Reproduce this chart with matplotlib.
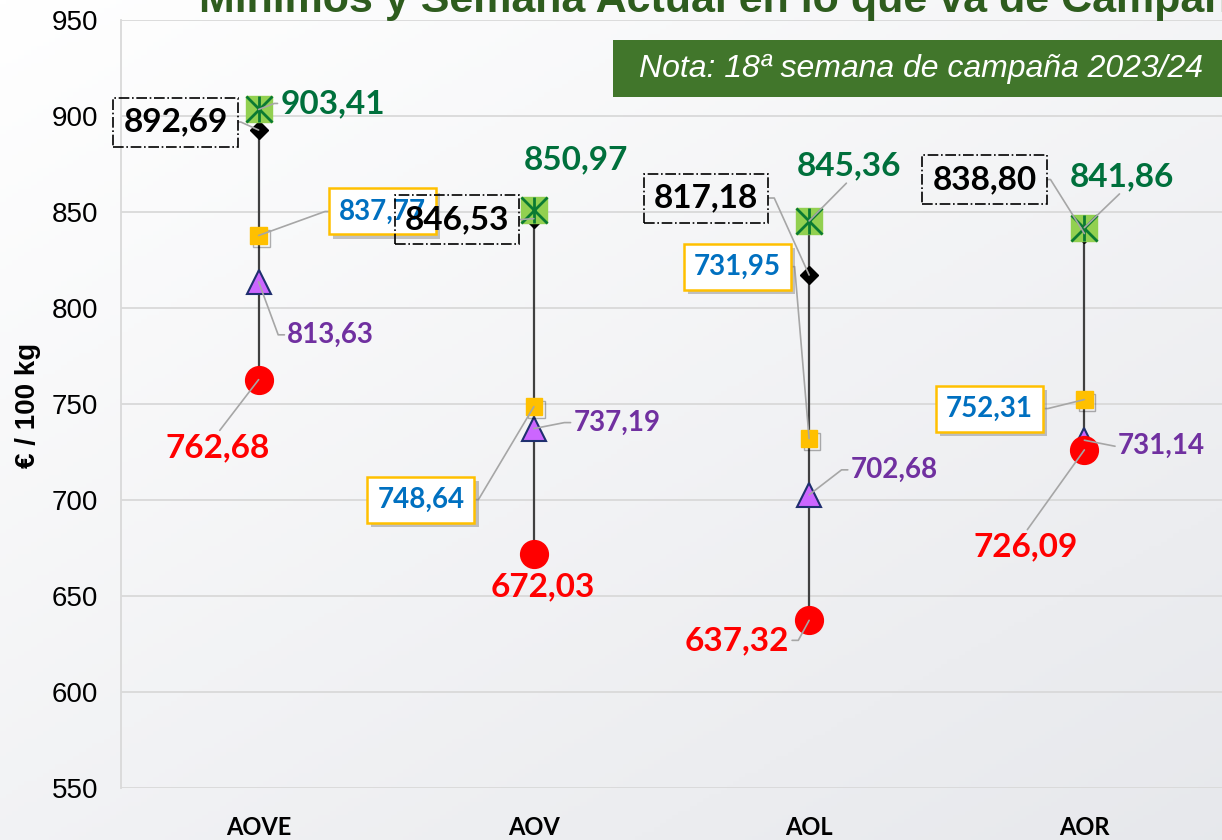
import matplotlib
matplotlib.use('Agg')
import matplotlib.pyplot as plt
import matplotlib.patheffects as pe
from matplotlib.patches import Rectangle
import numpy as np

# ---------------- data ----------------
categories = ['AOVE', 'AOV', 'AOL', 'AOR']
maximo = [903.41, 850.97, 845.36, 841.86]          # green square / asterisk
semana_actual = [892.69, 846.53, 817.18, 838.80]   # black diamond
serie_amarilla = [837.77, 748.64, 731.95, 752.31]  # yellow square
serie_morada = [813.63, 737.19, 702.68, 731.14]    # purple triangle
minimo = [762.68, 672.03, 637.32, 726.09]          # red circle
y_ticks = [550, 600, 650, 700, 750, 800, 850, 900, 950]

title_text = 'Mínimos y Semana Actual en lo que va de Campaña'
note_text = 'Nota: 18ª semana de campaña 2023/24'
y_label = '€ / 100 kg'

plt.rcParams['font.family'] = ['Lato', 'DejaVu Sans']

W, H = 1222, 840
fig = plt.figure(figsize=(W / 100, H / 100), dpi=100)

# background gradient
bg = fig.add_axes([0, 0, 1, 1], zorder=-10)
bg.axis('off')
gx, gy = np.meshgrid(np.linspace(0, 1, 200), np.linspace(0, 1, 200))
t = np.clip(0.45 * gx + 0.55 * gy, 0, 1)[..., None]
c0 = np.array([1.0, 1.0, 1.0])
c1 = np.array([0.905, 0.91, 0.925])
img = c0 * (1 - t) + c1 * t
bg.imshow(img, extent=[0, 1, 0, 1], aspect='auto', origin='upper')
bg.set_xlim(0, 1)
bg.set_ylim(0, 1)

ax = fig.add_axes([121 / W, 1 - 788 / H, 1 - 121 / W, (788 - 20) / H], zorder=1)
ax.set_facecolor('none')

x = np.arange(len(categories))
ax.set_xlim(-0.5, len(categories) - 0.5)
ax.set_ylim(y_ticks[0], y_ticks[-1])

ax.set_yticks(y_ticks)
ax.set_yticklabels([str(v) for v in y_ticks], fontsize=20, family='Liberation Sans')
ax.set_xticks(x)
ax.set_xticklabels(categories, fontsize=17, fontweight='bold')
ax.tick_params(axis='y', length=0, pad=16.5)
ax.tick_params(axis='x', length=0, pad=20)
ax.grid(axis='y', color='#D9D9D9', lw=1.3)
ax.set_axisbelow(True)
for s in ['top', 'right', 'bottom']:
    ax.spines[s].set_visible(False)
ax.spines['left'].set_color('#D9D9D9')
ax.spines['left'].set_linewidth(1.3)

# high-low lines
all_series = np.vstack([maximo, semana_actual, serie_amarilla, serie_morada, minimo])
ax.vlines(x, all_series.min(axis=0), all_series.max(axis=0), color='#404040', lw=1.6, zorder=2)

# markers
ax.plot(x, serie_morada, ls='none', marker='^', ms=17, mfc='#CC66FF', mec='#1F2F6F', mew=1.5, zorder=3)
ax.plot(x, minimo, ls='none', marker='o', ms=20, mfc='#FF0000', mec='#FF0000', zorder=4)
ax.plot(x, serie_amarilla, ls='none', marker='s', ms=12, mfc='#FFC000', mec='#FFC000', zorder=5,
        path_effects=[pe.SimpleLineShadow(offset=(2, -2), alpha=0.3), pe.Normal()])
ax.plot(x, semana_actual, ls='none', marker='D', ms=9, mfc='black', mec='black', zorder=6)
ax.plot(x, maximo, ls='none', marker='s', ms=19, mfc='#92D050', mec='#92D050', zorder=7)
ax.plot(x, maximo, ls='none', marker='x', ms=19, mec='#0B7A32', mew=2, zorder=8)
ax.plot(x, maximo, ls='none', marker='|', ms=19, mec='#0B7A32', mew=2, zorder=8)


def fmt(v):
    return f"{v:.2f}".replace('.', ',')


SIDES = {'L': ((0, 0.5), 180), 'R': ((1, 0.5), 0), 'T': ((0.5, 1), 90), 'B': ((0.5, 0), -90)}


def label(xi, val, dx, dy, color, size, side, arm, box=None, z=10):
    kw = dict(xy=(xi, val), xytext=(dx, -dy), textcoords='offset pixels',
              ha='center', va='center', color=color, fontsize=size, fontweight='bold',
              zorder=z, annotation_clip=False)
    if box == 'black':
        kw['bbox'] = dict(boxstyle='square,pad=0.3', fc='none', ec='black', lw=1.2, ls='-.')
    elif box == 'yellow':
        kw['bbox'] = dict(boxstyle='square,pad=0.36', fc='white', ec='#FFC000', lw=1.8)
    if side != 'N':
        relpos, ang = SIDES[side]
        kw['arrowprops'] = dict(arrowstyle='-', color='#A6A6A6', lw=1.2, shrinkA=0, shrinkB=0,
                                relpos=relpos,
                                connectionstyle=f"arc,angleA={ang},armA={arm},angleB=0,armB=0,rad=0")
    t = ax.annotate(fmt(val), **kw)
    if box == 'yellow':
        t.get_bbox_patch().set_path_effects(
            [pe.SimplePatchShadow(offset=(3, -3), shadow_rgbFace='#7F7F7F', alpha=0.45), pe.Normal()])
    return t


GREEN, BLACK, BLUE, PURPLE, RED = '#00703C', '#000000', '#0070C0', '#7030A0', '#FF0000'

# label layout: (dx, dy) pixel offsets (screen, y down), leader side, arm length (pt)
black_lay = [(-83, -8, 'R', 13), (-77, 1, 'R', 9), (-103, -77, 'R', 16), (-100, -54, 'R', 14)]
green_lay = [(74, -6, 'L', 6), (42, -50, 'N', 0), (40, -55, 'B', 0), (38, -51, 'B', 0)]
blue_lay = [(124, -24, 'L', 14), (-113, 93, 'R', 14), (-72, -172, 'R', 14), (-95, 9, 'R', 15)]
purple_lay = [(72, 53, 'L', 9), (83, -6, 'L', 9), (85, -25, 'L', 9), (77, 6, 'L', 3)]
red_lay = [(-41, 68, 'T', 0), (9, 33, 'N', 0), (-72, 20, 'R', 9), (-59, 97, 'T', 0)]

for i in range(len(categories)):
    dx, dy, sd, arm = black_lay[i]
    label(x[i], semana_actual[i], dx, dy, BLACK, 24, sd, arm, box='black', z=12)
    dx, dy, sd, arm = green_lay[i]
    label(x[i], maximo[i], dx, dy, GREEN, 24, sd, arm, z=10)
    dx, dy, sd, arm = blue_lay[i]
    label(x[i], serie_amarilla[i], dx, dy, BLUE, 20, sd, arm, box='yellow', z=11)
    dx, dy, sd, arm = purple_lay[i]
    label(x[i], serie_morada[i], dx, dy, PURPLE, 20, sd, arm, z=10)
    dx, dy, sd, arm = red_lay[i]
    label(x[i], minimo[i], dx, dy, RED, 24, sd, arm, z=10)

# y axis label
fig.text(28 / W, 1 - 405 / H, y_label, rotation=90, ha='center', va='center',
         fontsize=20, fontweight='bold', family='Liberation Sans')

# title (partially cut at top, as in the reference)
fig.text(199 / W, 1 - 12 / H, title_text, ha='left', va='baseline', fontsize=31,
         fontweight='bold', family='Liberation Sans', color='#2E5C1E')

# note box
fig.patches.append(Rectangle((613 / W, 1 - 97 / H), (W - 613) / W, 57 / H,
                             transform=fig.transFigure, fc='#41762B', ec='none', zorder=5))
fig.text(921 / W, 1 - 69 / H, note_text, ha='center', va='center', fontsize=23,
         style='italic', family='Liberation Sans', color='white', zorder=6)

fig.savefig('out.png', dpi=100)
